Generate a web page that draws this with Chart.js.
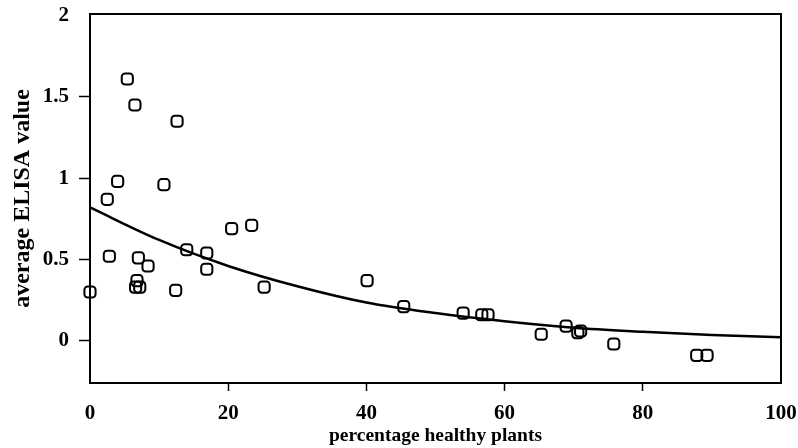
<!DOCTYPE html>
<html>
<head>
<meta charset="utf-8">
<script src="https://cdn.jsdelivr.net/npm/chart.js@4"></script>
<style>
  html, body { margin: 0; padding: 0; background: #fff; }
</style>
</head>
<body>
<canvas id="chart" width="798" height="448"></canvas>
<script>
// measured points: percentage healthy plants vs average ELISA value
const pctHealthy = [0, 2.5, 2.8, 4.0, 5.4, 6.5, 6.6, 6.8, 7.0, 7.2, 8.4, 10.7, 12.4, 12.6,
    14.0, 16.9, 16.9, 20.5, 23.4, 25.2, 40.1, 45.4, 54.0, 56.7, 57.6, 65.3, 68.9, 70.6, 71.0,
    75.8, 87.8, 89.3];
const elisaValue = [0.30, 0.87, 0.52, 0.98, 1.61, 1.45, 0.33, 0.37, 0.51, 0.33, 0.46, 0.96, 0.31, 1.35,
    0.56, 0.54, 0.44, 0.69, 0.71, 0.33, 0.37, 0.21, 0.17, 0.16, 0.16, 0.04, 0.09, 0.05, 0.06,
    -0.02, -0.09, -0.09];

// fitted curve
const curveX = [0, 10, 20, 30, 40, 50, 60, 70, 80, 90, 100];
const curveY = [0.82, 0.62, 0.46, 0.335, 0.235, 0.17, 0.12, 0.08, 0.055, 0.035, 0.022];

const xTicks = [0, 20, 40, 60, 80, 100];
const yTicks = [0, 0.5, 1, 1.5, 2];

const serif = "'Liberation Serif', 'DejaVu Serif', serif";

// draw the full box round the plot area
const frame = {
    id: 'frame',
    afterDraw(chart) {
        const a = chart.chartArea;
        const c = chart.ctx;
        c.save();
        c.strokeStyle = '#000';
        c.lineWidth = 2;
        c.strokeRect(a.left, a.top, a.right - a.left, a.bottom - a.top);
        c.restore();
    }
};

const ctx = document.getElementById('chart').getContext('2d');
new Chart(ctx, {
    type: 'scatter',
    data: {
        datasets: [{
            data: pctHealthy.map((x, i) => ({ x: x, y: elisaValue[i] })),
            pointStyle: 'rectRounded',
            pointRadius: 6.5,
            borderColor: '#000',
            backgroundColor: 'rgba(255,255,255,0)',
            borderWidth: 2,
            clip: false,
        }, {
            type: 'line',
            data: curveX.map((x, i) => ({ x: x, y: curveY[i] })),
            borderColor: '#000',
            borderWidth: 2.5,
            pointRadius: 0,
            cubicInterpolationMode: 'monotone',
            fill: false,
        }]
    },
    options: {
        responsive: false,
        animation: false,
        layout: { padding: { top: 14, right: 17, left: 0, bottom: 0 } },
        plugins: { legend: { display: false }, tooltip: { enabled: false } },
        scales: {
            x: {
                type: 'linear',
                min: 0,
                max: 100,
                afterBuildTicks: axis => { axis.ticks = xTicks.map(v => ({ value: v })); },
                afterFit: axis => {
                    axis.height = 65;
                    axis.paddingLeft = 0;
                    axis.paddingRight = 0;
                },
                ticks: {
                    color: '#000',
                    padding: 10,
                    maxRotation: 0,
                    font: { family: serif, size: 21, weight: 'bold' },
                },
                grid: {
                    drawOnChartArea: false,
                    tickLength: 8,
                    tickWidth: 1.5,
                    tickColor: c => (c.tick.value === 0 || c.tick.value === 100) ? 'rgba(0,0,0,0)' : '#000',
                },
                border: { color: '#000', width: 2 },
                title: {
                    display: true,
                    text: 'percentage healthy plants',
                    color: '#000',
                    padding: { top: 3, bottom: 0 },
                    font: { family: serif, size: 19.5, weight: 'bold' },
                },
            },
            y: {
                type: 'linear',
                min: -0.26,
                max: 2.01,
                afterBuildTicks: axis => { axis.ticks = yTicks.map(v => ({ value: v })); },
                afterFit: axis => {
                    axis.width = 90;
                    axis.paddingTop = 0;
                    axis.paddingBottom = 0;
                },
                ticks: {
                    color: '#000',
                    padding: 10,
                    font: { family: serif, size: 21, weight: 'bold' },
                    callback: v => String(v),
                },
                grid: {
                    drawOnChartArea: false,
                    tickLength: 11,
                    tickWidth: 1.5,
                    tickColor: c => c.tick.value === 2 ? 'rgba(0,0,0,0)' : '#000',
                },
                border: { color: '#000', width: 2 },
                title: {
                    display: true,
                    text: 'average ELISA value',
                    color: '#000',
                    padding: { top: 8, bottom: 0 },
                    font: { family: serif, size: 24, weight: 'bold' },
                },
            }
        }
    },
    plugins: [frame]
});
</script>
</body>
</html>
